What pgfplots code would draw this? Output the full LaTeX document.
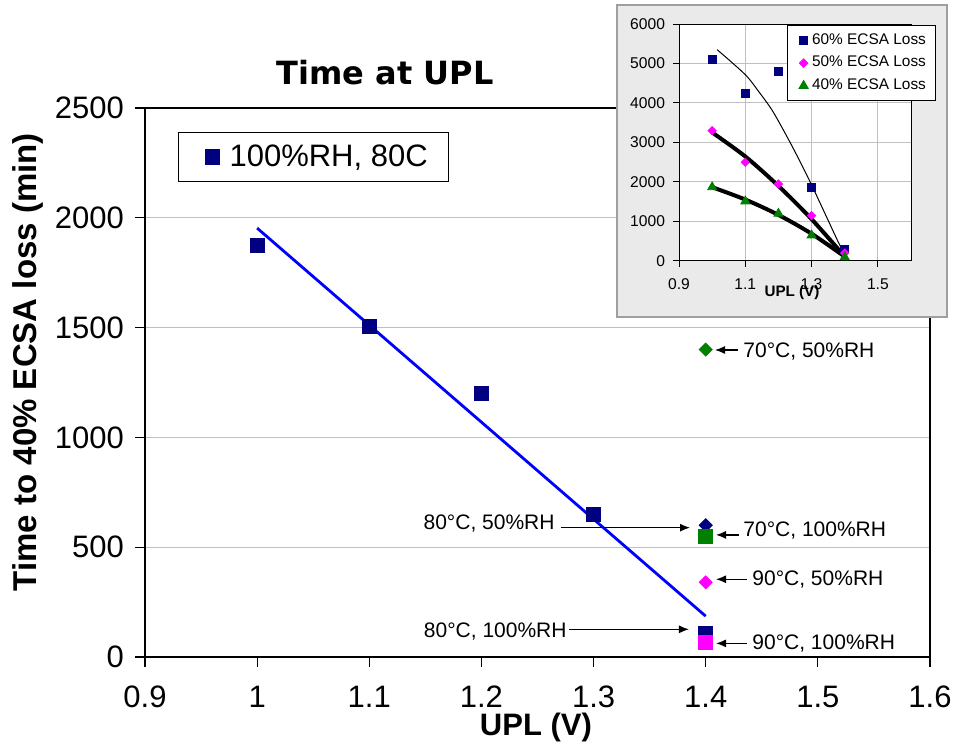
\documentclass[border=0pt]{standalone}
\usepackage{pgfplots}
\pgfplotsset{compat=1.18}
\usepackage{fontspec}
\setmainfont{Liberation Sans}
\newfontfamily\titlefont{DejaVu Sans}
\usetikzlibrary{arrows.meta}
\definecolor{navy}{RGB}{0,0,128}
\definecolor{exgreen}{RGB}{0,128,0}
\definecolor{exmag}{RGB}{255,0,255}
\definecolor{insetbg}{RGB}{234,234,234}
\definecolor{gridgray}{RGB}{192,192,192}
\begin{document}
\begin{tikzpicture}
\path[use as bounding box] (0,0) rectangle (482pt,372.5pt);
\begin{axis}[
  at={(72.5pt,44pt)}, anchor=south west,
  width=392.5pt, height=274.5pt, scale only axis,
  xmin=0.9, xmax=1.6, ymin=0, ymax=2500,
  xtick={0.9,1,1.1,1.2,1.3,1.4,1.5,1.6},
  xticklabels={0.9,1,1.1,1.2,1.3,1.4,1.5,1.6},
  ytick={0,500,1000,1500,2000,2500},
  yticklabels={0,500,1000,1500,2000,2500},
  ymajorgrids, grid style={gridgray, line width=0.6pt},
  tick pos=left, tick align=outside, major tick length=5pt,
  axis line style={line width=0.7pt},
  tick style={black, line width=0.6pt},
  /pgf/number format/assume math mode=true,
  tick label style={font=\fontsize{15.5}{18}\selectfont},
  yticklabel style={xshift=-2pt},
  xticklabel style={yshift=-6pt},
  xlabel={UPL (V)},
  xlabel style={at={(axis description cs:0.498,-0.129)}, anchor=center, font=\bfseries\fontsize{15.5}{18}\selectfont},
  ylabel={Time to 40\% ECSA loss (min)},
  ylabel style={at={(axis description cs:-0.149,0.537)}, anchor=center, font=\bfseries\fontsize{16.5}{19}\selectfont},
  title={Time at UPL},
  title style={at={(axis description cs:0.306,1.042)}, anchor=center, font=\titlefont\bfseries\fontsize{16}{19}\selectfont},
  legend style={at={(axis description cs:0.042,0.956)}, anchor=north west, draw=black, line width=0.6pt,
    font=\fontsize{15.5}{18}\selectfont, inner xsep=8.5pt, inner ysep=4pt},
  legend image code/.code={\path[draw=none,fill=none] (0pt,0pt) -- (15pt,0pt); \draw[#1] plot coordinates {(8.5pt,0pt)};},
]
\addplot[only marks, mark=square*, mark size=3.5pt, color=navy] coordinates {
  (1.0,1875) (1.1,1507) (1.2,1202) (1.3,651) (1.4,108)};
\addlegendentry{100\%RH, 80C}
\addplot[blue, line width=1.4pt, forget plot] coordinates {(1.0,1953) (1.4,186)};
\addplot[only marks, mark=square*, mark size=2.3pt, mark options={rotate=45}, color=navy, forget plot] coordinates {(1.4,600)};
\addplot[only marks, mark=square*, mark size=2.3pt, mark options={rotate=45}, color=exgreen, forget plot] coordinates {(1.4,1400)};
\addplot[only marks, mark=square*, mark size=2.3pt, mark options={rotate=45}, color=exmag, forget plot] coordinates {(1.4,340)};
\addplot[only marks, mark=square*, mark size=3.5pt, color=exgreen, forget plot] coordinates {(1.4,550)};
\addplot[only marks, mark=square*, mark size=3.5pt, color=exmag, forget plot] coordinates {(1.4,68)};
% annotations
\begin{scope}[font=\fontsize{10.5}{12}\selectfont, arr/.style={-{Latex[length=5pt,width=4pt]}, line width=0.6pt}]
\node[anchor=west, inner sep=0pt] at (axis cs:1.4333,1389) {70°C, 50\%RH};
\draw[arr] (axis cs:1.4288,1398) -- (axis cs:1.4083,1398);
\node[anchor=east, inner sep=0pt] at (axis cs:1.2656,606) {80°C, 50\%RH};
\draw[arr] (axis cs:1.2710,589) -- (axis cs:1.3860,589);
\node[anchor=west, inner sep=0pt] at (axis cs:1.4333,575) {70°C, 100\%RH};
\draw[arr] (axis cs:1.4297,556) -- (axis cs:1.4092,556);
\node[anchor=west, inner sep=0pt] at (axis cs:1.4413,355) {90°C, 50\%RH};
\draw[arr] (axis cs:1.4368,354) -- (axis cs:1.4092,354);
\node[anchor=east, inner sep=0pt] at (axis cs:1.2763,115) {80°C, 100\%RH};
\draw[arr] (axis cs:1.2781,126) -- (axis cs:1.3851,126);
\node[anchor=west, inner sep=0pt] at (axis cs:1.4413,62) {90°C, 100\%RH};
\draw[arr] (axis cs:1.4368,62) -- (axis cs:1.4092,62);
\end{scope}
\end{axis}
% inset panel
\draw[fill=insetbg, draw=gray!75, line width=1pt] (308.5pt,214pt) rectangle (473.5pt,370pt);
\begin{axis}[
  at={(339.5pt,242pt)}, anchor=south west,
  width=116pt, height=118.5pt, scale only axis,
  xmin=0.9, xmax=1.6, ymin=0, ymax=6000,
  xtick={0.9,1.1,1.3,1.5}, xticklabels={0.9,1.1,1.3,1.5},
  ytick={0,1000,2000,3000,4000,5000,6000},
  yticklabels={0,1000,2000,3000,4000,5000,6000},
  grid=major, grid style={gridgray, line width=0.5pt},
  axis background/.style={fill=white},
  tick pos=left, tick align=outside, major tick length=3pt,
  axis line style={line width=0.5pt}, tick style={black, line width=0.5pt},
  /pgf/number format/assume math mode=true,
  tick label style={font=\fontsize{7.8}{9}\selectfont},
  yticklabel style={xshift=-0.5pt},
  xticklabel style={yshift=-2.5pt},
  xlabel={UPL (V)},
  xlabel style={at={(axis description cs:0.487,-0.135)}, anchor=center, font=\bfseries\fontsize{7.6}{9}\selectfont},
  legend style={at={(axis description cs:0.466,0.996)}, anchor=north west, draw=black, line width=0.5pt,
    font=\fontsize{7.7}{9}\selectfont, inner xsep=3pt, inner ysep=2pt, row sep=0.5pt},
  legend image code/.code={\path[draw=none,fill=none] (0pt,0pt) -- (7pt,0pt); \draw[#1] plot coordinates {(5pt,0pt)};},
]
\addplot[only marks, mark=square*, mark size=2pt, color=navy] coordinates {
  (1.0,5100) (1.1,4250) (1.2,4800) (1.3,1870) (1.4,300)};
\addlegendentry{60\% ECSA Loss}
\addplot[only marks, mark=square*, mark size=1.45pt, mark options={rotate=45}, color=exmag] coordinates {
  (1.0,3300) (1.1,2500) (1.2,1950) (1.3,1150) (1.4,200)};
\addlegendentry{50\% ECSA Loss}
\addplot[only marks, mark=triangle*, mark size=2.6pt, color=exgreen] coordinates {
  (1.0,1870) (1.1,1510) (1.2,1200) (1.3,650) (1.4,100)};
\addlegendentry{40\% ECSA Loss}
\addplot[black, line width=0.5pt, smooth, forget plot] coordinates {
  (1.015,5351) (1.1,4717) (1.14,4294) (1.18,3829) (1.22,3238) (1.26,2604) (1.3,1927) (1.34,1209) (1.38,490) (1.4,152)};
\addplot[black, line width=2pt, smooth, forget plot] coordinates {
  (1.0,3254) (1.1,2646) (1.2,1900) (1.3,1060) (1.4,110)};
\addplot[black, line width=2pt, smooth, forget plot] coordinates {
  (1.0,1868) (1.1,1555) (1.2,1167) (1.3,690) (1.4,110)};
\end{axis}
\end{tikzpicture}
\end{document}
